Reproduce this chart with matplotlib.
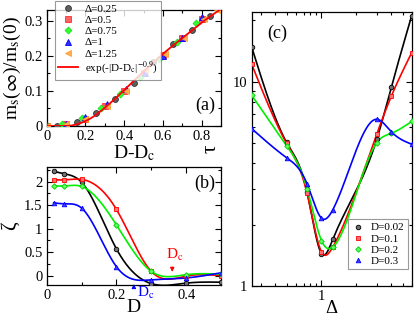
import numpy as np
import matplotlib
matplotlib.use("Agg")
import matplotlib.pyplot as plt
from matplotlib.ticker import MultipleLocator, FuncFormatter, LogLocator, NullFormatter

plt.rcParams['font.family'] = ['Liberation Serif', 'DejaVu Serif']
plt.rcParams['mathtext.fontset'] = 'stix'

# ---------------- data: panel (a) ----------------
a_x025 = [0.0, 0.055, 0.155, 0.253, 0.352, 0.452, 0.55, 0.65, 0.748, 0.843]
a_y025 = [0.0, 0.001, 0.01, 0.036, 0.076, 0.121, 0.182, 0.232, 0.274, 0.313]
a_x05 = [0.0, 0.1, 0.2, 0.3, 0.4, 0.5, 0.6, 0.7, 0.8]
a_y05 = [0.0, 0.006, 0.02, 0.058, 0.1, 0.152, 0.203, 0.25, 0.305]
a_x075 = [0.0, 0.08, 0.18, 0.28, 0.38, 0.48, 0.58, 0.673, 0.77]
a_y075 = [0.0, 0.006, 0.022, 0.052, 0.09, 0.138, 0.192, 0.24, 0.292]
a_x1 = [0.0, 0.1, 0.198, 0.31, 0.41, 0.507, 0.6, 0.7, 0.8]
a_y1 = [0.0, 0.006, 0.026, 0.062, 0.106, 0.15, 0.198, 0.25, 0.31]
a_x125 = [0.0, 0.1, 0.2, 0.31, 0.41, 0.51, 0.61, 0.71, 0.81, 0.88]
a_y125 = [0.0, 0.006, 0.02, 0.058, 0.1, 0.158, 0.205, 0.25, 0.305, 0.33]
fit_x = [0.0, 0.05, 0.1, 0.15, 0.2, 0.25, 0.3, 0.35, 0.4, 0.45, 0.5, 0.55, 0.6,
         0.65, 0.7, 0.75, 0.8, 0.85, 0.9]
fit_y = [0.0, 0.0, 0.0, 0.004, 0.014, 0.03, 0.052, 0.076, 0.102, 0.128, 0.155,
         0.18, 0.205, 0.228, 0.25, 0.272, 0.294, 0.314, 0.333]
a_labels = ['Δ=0.25', 'Δ=0.5', 'Δ=0.75', 'Δ=1', 'Δ=1.25']
fit_label = 'exp(-|D-D$_\\mathrm{c}$|$^{-0.9}$)'

# ---------------- data: panel (b) ----------------
b_D = [0.02, 0.05, 0.1, 0.2, 0.3, 0.4, 0.5]
b_black = [2.22, 2.17, 1.99, 0.57, -0.17, -0.16, -0.14]
b_red = [2.04, 2.04, 2.05, 1.41, 0.09, -0.01, 0.0]
b_green = [1.91, 1.91, 1.9, 1.08, 0.09, 0.02, 0.03]
b_blue = [1.55, 1.53, 1.44, 0.19, -0.09, -0.05, 0.06]
b_dc_red = 0.36
b_dc_blue = 0.25

# ---------------- data: panel (c) ----------------
c_delta = [0.25, 0.5, 0.75, 1.0, 1.25, 3.0, 4.0, 6.0]
c_002 = [14.8, 5.05, 2.9, 1.44, 1.69, 5.24, 9.4, 21.1]
c_01 = [12.2, 5.0, 2.85, 1.47, 1.55, 5.56, 8.5, 13.9]
c_02 = [8.6, 4.87, 3.0, 1.67, 1.55, 5.04, 5.6, 6.4]
c_03 = [5.9, 4.25, 3.17, 2.15, 2.36, 6.56, 5.7, 4.95]
c_labels = ['D=0.02', 'D=0.1', 'D=0.2', 'D=0.3']


def natural_spline(x, y, n=300):
    x = np.asarray(x, float)
    y = np.asarray(y, float)
    m = len(x)
    h = np.diff(x)
    A = np.zeros((m, m))
    r = np.zeros(m)
    A[0, 0] = 1
    A[-1, -1] = 1
    for i in range(1, m - 1):
        A[i, i - 1] = h[i - 1]
        A[i, i] = 2 * (h[i - 1] + h[i])
        A[i, i + 1] = h[i]
        r[i] = 3 * ((y[i + 1] - y[i]) / h[i] - (y[i] - y[i - 1]) / h[i - 1])
    c = np.linalg.solve(A, r)
    b = (y[1:] - y[:-1]) / h - h * (2 * c[:-1] + c[1:]) / 3
    d = (c[1:] - c[:-1]) / (3 * h)
    xs = np.linspace(x[0], x[-1], n)
    idx = np.clip(np.searchsorted(x, xs) - 1, 0, m - 2)
    dx = xs - x[idx]
    ys = y[idx] + b[idx] * dx + c[idx] * dx ** 2 + d[idx] * dx ** 3
    return xs, ys


fmt = FuncFormatter(lambda v, p: '%g' % v)

fig = plt.figure(figsize=(4.15, 3.18), dpi=100)
W, H = 415.0, 318.0


def rect(l, t, r, b):
    return [l / W, 1 - b / H, (r - l) / W, (b - t) / H]


axA = fig.add_axes(rect(46.7, 10, 221, 126))
axB = fig.add_axes(rect(46.7, 166.7, 221, 285))
axC = fig.add_axes(rect(251.7, 12, 411.7, 286))

for ax in (axA, axB, axC):
    ax.tick_params(which='both', direction='in', top=True, right=True,
                   labelsize=10.5, colors='black', pad=3)
    ax.tick_params(which='major', length=4, width=0.8)
    ax.tick_params(which='minor', length=2.2, width=0.8)
    for s in ax.spines.values():
        s.set_linewidth(0.9)

# ---------------- panel (a) ----------------
styles_a = [
    dict(marker='o', mfc='#606060', mec='#303030'),
    dict(marker='s', mfc='#ff6060', mec='#ff3030'),
    dict(marker='D', mfc='#30ff30', mec='#20dd20', ms=3.5),
    dict(marker='^', mfc='#3030ff', mec='#0000ff'),
    dict(marker='<', mfc='#ffb050', mec='#ffa030'),
]
handles = []
for (xs_, ys_), st, lab in zip([(a_x025, a_y025), (a_x05, a_y05), (a_x075, a_y075),
                                 (a_x1, a_y1), (a_x125, a_y125)], styles_a, a_labels):
    kw = dict(ms=4.2, mew=0.6)
    kw.update(st)
    h, = axA.plot(xs_, ys_, ls='none', label=lab, zorder=3, **kw)
    handles.append(h)
fx, fy = natural_spline(fit_x, fit_y)
fy = np.clip(fy, 0, None)
hf, = axA.plot(fx, fy, color='#ff0000', lw=1.3, label=fit_label, zorder=4)
handles.append(hf)
axA.set_xlim(0, 0.9)
axA.set_ylim(0, 0.33)
axA.xaxis.set_major_locator(MultipleLocator(0.2))
axA.xaxis.set_minor_locator(MultipleLocator(0.1))
axA.yaxis.set_major_locator(MultipleLocator(0.1))
axA.yaxis.set_minor_locator(MultipleLocator(0.05))
axA.xaxis.set_major_formatter(fmt)
axA.yaxis.set_major_formatter(fmt)
axA.set_xlabel('D-D$_\\mathrm{c}$', fontsize=14, labelpad=0)
axA.set_ylabel('m$_\\mathrm{s}$($\\infty$)/m$_\\mathrm{s}$(0)', fontsize=14, labelpad=1)
axA.text(0.965, 0.1, '(a)', transform=axA.transAxes, fontsize=13, ha='right', va='bottom')
legA = fig.legend(handles=handles, loc='upper left',
                  bbox_to_anchor=(55 / W, 1 - 1 / H), fontsize=8,
                  frameon=True, fancybox=False, edgecolor='#808080',
                  handlelength=1.8, handletextpad=0.6, labelspacing=0.12,
                  borderpad=0.3, borderaxespad=0)
legA.get_frame().set_linewidth(0.8)

# ---------------- panel (b) ----------------
series_b = [
    (b_black, '#000000', dict(marker='o', mfc='#707070', mec='#000000')),
    (b_red, '#ff0000', dict(marker='s', mfc='#ff7070', mec='#ff0000')),
    (b_green, '#00ee00', dict(marker='D', mfc='#60ff60', mec='#00cc00', ms=2.8)),
    (b_blue, '#0000ff', dict(marker='^', mfc='#4040ff', mec='#0000ff')),
]
for yv, col, st in series_b:
    sx, sy = natural_spline(b_D, yv)
    axB.plot(sx, sy, color=col, lw=1.2, zorder=2)
    kw = dict(ms=3.3, mew=0.6)
    kw.update(st)
    axB.plot(b_D, yv, ls='none', zorder=3, **kw)
axB.set_xlim(0, 0.5)
axB.set_ylim(-0.2, 2.32)
axB.xaxis.set_major_locator(MultipleLocator(0.2))
axB.xaxis.set_minor_locator(MultipleLocator(0.1))
axB.yaxis.set_major_locator(MultipleLocator(0.5))
axB.yaxis.set_minor_locator(MultipleLocator(0.25))
axB.xaxis.set_major_formatter(fmt)
axB.yaxis.set_major_formatter(fmt)
axB.set_xlabel('D', fontsize=14, labelpad=-2)
axB.set_ylabel('ζ', fontsize=15, labelpad=3)
axB.text(0.965, 0.93, '(b)', transform=axB.transAxes, fontsize=13, ha='right', va='top')
axB.annotate('', xy=(b_dc_red, 0.02), xytext=(b_dc_red, 0.24),
             arrowprops=dict(arrowstyle='-|>', color='#ff0000', lw=0.8,
                             mutation_scale=6))
axB.text(b_dc_red + 0.008, 0.27, 'D$_\\mathrm{c}$', color='#ff0000', fontsize=11,
         ha='center', va='bottom')
axB.annotate('', xy=(b_dc_blue, -0.12), xytext=(b_dc_blue, -0.31),
             arrowprops=dict(arrowstyle='-|>', color='#0000ff', lw=0.8,
                             mutation_scale=6), annotation_clip=False)
axB.text(b_dc_blue + 0.008, -0.2, 'D$_\\mathrm{c}$', color='#0000ff', fontsize=11,
         ha='left', va='top', clip_on=False)

# ---------------- panel (c) ----------------
series_c = [
    (c_002, '#000000', dict(marker='o', mfc='#707070', mec='#000000')),
    (c_01, '#ff0000', dict(marker='s', mfc='#ff7070', mec='#ff0000')),
    (c_02, '#00ee00', dict(marker='D', mfc='#60ff60', mec='#00cc00', ms=2.8)),
    (c_03, '#0000ff', dict(marker='^', mfc='#4040ff', mec='#0000ff')),
]
hc = []
for (yv, col, st), lab in zip(series_c, c_labels):
    lx, ly = natural_spline(np.log10(c_delta), np.log10(yv), n=400)
    axC.plot(10 ** lx, 10 ** ly, color=col, lw=1.2, zorder=2)
    kw = dict(ms=3.3, mew=0.6)
    kw.update(st)
    h, = axC.plot(c_delta, yv, ls='none', zorder=3, label=lab, **kw)
    hc.append(h)
axC.set_xscale('log')
axC.set_yscale('log')
axC.set_xlim(0.25, 6)
axC.set_ylim(1, 22)
axC.xaxis.set_major_locator(LogLocator(base=10, numticks=10))
axC.xaxis.set_minor_locator(LogLocator(base=10, subs=np.arange(2, 10), numticks=20))
axC.yaxis.set_major_locator(LogLocator(base=10, numticks=10))
axC.yaxis.set_minor_locator(LogLocator(base=10, subs=np.arange(2, 10), numticks=20))
axC.xaxis.set_major_formatter(fmt)
axC.yaxis.set_major_formatter(fmt)
axC.xaxis.set_minor_formatter(NullFormatter())
axC.yaxis.set_minor_formatter(NullFormatter())
axC.set_xlabel('Δ', fontsize=13.5, labelpad=-2)
axC.set_ylabel('τ', fontsize=15, labelpad=9)
axC.text(0.1, 0.955, '(c)', transform=axC.transAxes, fontsize=13, ha='left', va='top')
legC = axC.legend(handles=hc, loc='upper left',
                  bbox_to_anchor=(347.7 / W, 1 - 219.3 / H),
                  bbox_transform=fig.transFigure, fontsize=8,
                  frameon=True, fancybox=False, edgecolor='#808080',
                  handlelength=1.2, handletextpad=0.6, labelspacing=0.12,
                  borderpad=0.3, borderaxespad=0)
legC.get_frame().set_linewidth(0.8)

fig.savefig('out.png', dpi=100)
